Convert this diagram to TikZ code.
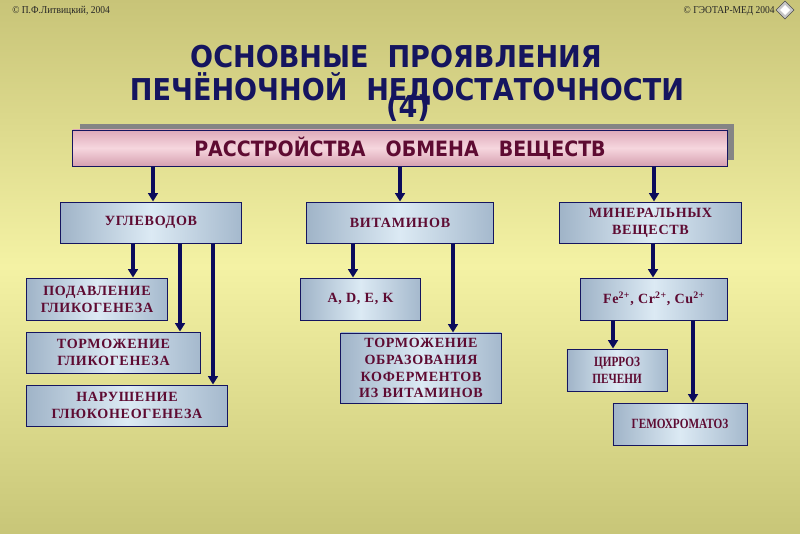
\documentclass[tikz,border=0pt]{standalone}
\usepackage{fontspec}
\setmainfont{Liberation Serif}[LetterSpace=5]
\newfontfamily\ttlfont[FakeStretch=0.9]{DejaVu Sans}
\newfontfamily\nrwfont[FakeStretch=0.8]{Liberation Serif}
\newfontfamily\hdrfont[FakeStretch=0.9]{Liberation Serif}
\usetikzlibrary{arrows.meta,shadows}
\definecolor{bgTop}{HTML}{C8C478}
\definecolor{bgMid}{HTML}{F4F2A4}
\definecolor{bgBot}{HTML}{C8C678}
\definecolor{bxL}{HTML}{A0B4C8}
\definecolor{bxM}{HTML}{DCEAF4}
\definecolor{bxR}{HTML}{A5B9CD}
\definecolor{pkT}{HTML}{DEAAB9}
\definecolor{pkM}{HTML}{F6D6DE}
\definecolor{pkB}{HTML}{D6A0B0}
\definecolor{maroon}{HTML}{5E0B32}
\definecolor{navy}{HTML}{15155F}
\definecolor{arrnavy}{HTML}{0B0B5C}
\definecolor{shgray}{HTML}{858585}
\tikzset{
  box/.style={draw=navy, line width=0.7pt, left color=bxL, right color=bxR, middle color=bxM,
    text=maroon, align=center, inner sep=1pt, font=\fontsize{10}{12}\selectfont\bfseries},
  nbox/.style={box, font=\nrwfont\fontsize{10}{12}\selectfont\bfseries},
  link/.style={draw=arrnavy, line width=2.2pt, -{Triangle[width=7pt,length=6pt]}},
  ttl/.style={text=navy, inner sep=0pt, font=\ttlfont\fontsize{21.4}{26}\selectfont\bfseries},
  hdr/.style={text=black!85, inner sep=0pt, font=\hdrfont\fontsize{7.5}{9}\selectfont}
}
\def\mkbox(#1,#2,#3,#4,#5,#6,#7){
  \node[#6, minimum width=#4cm, minimum height=#5cm] (#1) at (#2,#3) {#7};
}
\def\linkdn(#1,#2,#3){
  \coordinate (x#1#2) at (#3,0);
  \draw[link] (x#1#2 |- #1.south) -- (x#1#2 |- #2.north);
}
\begin{document}
\begin{tikzpicture}[x=0.025cm, y=-0.025cm]
\useasboundingbox (0,0) rectangle (800,533);
\shade[top color=bgTop, bottom color=bgBot, middle color=bgMid] (0,0) rectangle (800,533);
\node[hdr, anchor=west] (cpl) at (12,11) {© П.Ф.Литвицкий, 2004};
\node[hdr, anchor=east] (cpr) at (775,11) {© ГЭОТАР-МЕД 2004};
\filldraw[fill=gray!45, draw=gray!60!black, line width=0.4pt] (785,1) -- (794,10) -- (785,19) -- (776,10) -- cycle;
\fill[white] (785,5) -- (790,10) -- (785,15) -- (780,10) -- cycle;
\node[ttl, anchor=base] (ttla) at (396,67) {ОСНОВНЫЕ\ \ ПРОЯВЛЕНИЯ};
\node[ttl, anchor=base] (ttlb) at (407,100) {ПЕЧЁНОЧНОЙ\ \ НЕДОСТАТОЧНОСТИ};
\node[ttl, anchor=base] (ttlc) at (408,117) {(4)};
\node[draw=navy, line width=0.7pt, top color=pkT, bottom color=pkB, middle color=pkM,
  minimum width=16.35cm, minimum height=0.9cm, text=maroon,
  font=\ttlfont\fontsize{15}{17}\selectfont\bfseries,
  drop shadow={shadow xshift=0.175cm, shadow yshift=0.15cm, fill=shgray, opacity=1}]
  (main) at (400,148) {РАССТРОЙСТВА\hspace{0.95em}ОБМЕНА\hspace{0.95em}ВЕЩЕСТВ};
\mkbox(carb,151,222.5,4.5,1.025,box,УГЛЕВОДОВ)
\mkbox(vit,400,222.5,4.65,1.025,box,ВИТАМИНОВ)
\mkbox(mins,650.5,222.5,4.525,1.025,box,МИНЕРАЛЬНЫХ\\ВЕЩЕСТВ)
\mkbox(supp,97,299,3.5,1.05,box,ПОДАВЛЕНИЕ\\ГЛИКОГЕНЕЗА)
\mkbox(inhib,113.5,352.5,4.325,1.025,box,ТОРМОЖЕНИЕ\\ГЛИКОГЕНЕЗА)
\mkbox(gluco,127,405.5,5.0,1.025,box,НАРУШЕНИЕ\\ГЛЮКОНЕОГЕНЕЗА)
\mkbox(adek,360.5,299,2.975,1.05,box,A{,} D{,} E{,} K)
\mkbox(coenz,421,368,4.0,1.75,box,ТОРМОЖЕНИЕ\\ОБРАЗОВАНИЯ\\КОФЕРМЕНТОВ\\ИЗ ВИТАМИНОВ)
\mkbox(ions,654,299,3.65,1.05,box,Fe\textsuperscript{2+}{,} Cr\textsuperscript{2+}{,} Cu\textsuperscript{2+})
\mkbox(cirr,617,370,2.5,1.05,nbox,ЦИРРОЗ\\ПЕЧЕНИ)
\mkbox(hemo,680,424,3.35,1.05,nbox,ГЕМОХРОМАТОЗ)
\linkdn(main,carb,153)
\linkdn(main,vit,400)
\linkdn(main,mins,654)
\linkdn(carb,supp,133)
\linkdn(carb,inhib,180)
\linkdn(carb,gluco,213)
\linkdn(vit,adek,353)
\linkdn(vit,coenz,453)
\linkdn(mins,ions,653)
\linkdn(ions,cirr,613)
\linkdn(ions,hemo,693)
\end{tikzpicture}
\end{document}
